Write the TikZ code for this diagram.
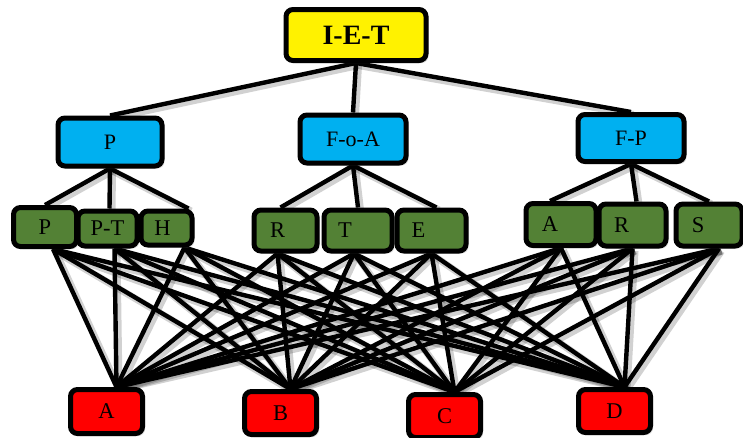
\documentclass[tikz,border=0pt]{standalone}
\usepackage{fontspec}
\setmainfont{Liberation Serif}
\usetikzlibrary{backgrounds,shadows}
\definecolor{cyanbox}{HTML}{00B0F0}
\definecolor{greenbox}{HTML}{538135}
\begin{document}
\begin{tikzpicture}[x=1pt,y=-1pt,
 box/.style={draw=black, line width=5pt, rounded corners=7pt, inner sep=0pt,
   drop shadow={opacity=0.3, shadow xshift=2.5pt, shadow yshift=-2.5pt}},
 topbox/.style={box, fill=yellow, font=\fontsize{28}{30}\selectfont\bfseries},
 critbox/.style={box, fill=cyanbox, font=\fontsize{22}{24}\selectfont},
 subbox/.style={box, fill=greenbox, font=\fontsize{22.5}{24}\selectfont},
 altbox/.style={box, fill=red, font=\fontsize{22.5}{24}\selectfont},
 link/.style={line width=4.4pt, preaction={draw=black, opacity=0.18, line width=7pt,
   transform canvas={shift={(2.5pt,-2.5pt)}}}}
]
\useasboundingbox (0,0) rectangle (743,437);

% top
\node[topbox, minimum width=140pt, minimum height=51pt] (t) at (356,35) {I-E-T};
% criteria
\node[critbox, minimum width=104pt, minimum height=48pt] (b1) at (110,142) {P};
\node[critbox, minimum width=106pt, minimum height=48pt] (b2) at (353,139) {F-o-A};
\node[critbox, minimum width=106pt, minimum height=47pt] (b3) at (631,138) {F-P};
% sub-criteria
\node[subbox, minimum width=63pt, minimum height=39pt] (g1) at (45,227) {P};
\node[subbox, minimum width=59pt, minimum height=35pt] (g2) at (107.5,228.5) {P-T};
\node[subbox, minimum width=51pt, minimum height=34pt] (g3) at (166.5,228) {H\hspace*{8pt}};
\node[subbox, minimum width=63pt, minimum height=41pt] (g4) at (285.5,230.5) {\raisebox{-4pt}{R}\hspace*{16pt}};
\node[subbox, minimum width=68pt, minimum height=41pt] (g5) at (358,230.5) {\raisebox{-4pt}{T}\hspace*{26pt}};
\node[subbox, minimum width=69pt, minimum height=41pt] (g6) at (431.5,230.5) {\raisebox{-4pt}{E}\hspace*{26pt}};
\node[subbox, minimum width=70pt, minimum height=42pt] (g7) at (561,224.5) {\raisebox{-3pt}{A}\hspace*{22pt}};
\node[subbox, minimum width=67pt, minimum height=42pt] (g8) at (632.5,225) {\raisebox{-3pt}{R}\hspace*{22pt}};
\node[subbox, minimum width=66pt, minimum height=42pt] (g9) at (709,225) {\raisebox{-3pt}{S}\hspace*{22pt}};
% alternatives
\node[altbox, minimum width=72pt, minimum height=44pt] (rA) at (106.5,411.5) {A};
\node[altbox, minimum width=72pt, minimum height=43pt] (rB) at (280.5,413) {B};
\node[altbox, minimum width=72pt, minimum height=43pt] (rC) at (444.5,416) {C};
\node[altbox, minimum width=72pt, minimum height=43pt] (rD) at (614.5,411) {D};

\begin{pgfonlayer}{background}
  \foreach \b in {b1,b2,b3} \draw[link] (t.south) -- (\b.north);
  \draw[link] (b1.south) -- (g1.north);
  \draw[link] (b1.south) -- ([xshift=2pt]g2.north);
  \draw[link] (b1.south) -- ([xshift=22pt]g3.north);
  \draw[link] (b2.south) -- ([xshift=-5pt]g4.north);
  \draw[link] (b2.south) -- (g5.north);
  \draw[link] (b2.south) -- ([xshift=5pt]g6.north);
  \draw[link] (b3.south) -- ([xshift=-11pt]g7.north);
  \draw[link] (b3.south) -- ([xshift=4pt]g8.north);
  \draw[link] (b3.south) -- (g9.north);
  \foreach \g/\s in {g1/8,g2/7,g3/18,g4/-8,g5/-4,g6/0,g7/0,g8/0,g9/10}
    \foreach \r in {rA,rB,rC,rD}
      \draw[link] ([xshift=\s pt]\g.south) -- ([xshift=10pt]\r.north);
\end{pgfonlayer}
\end{tikzpicture}
\end{document}
